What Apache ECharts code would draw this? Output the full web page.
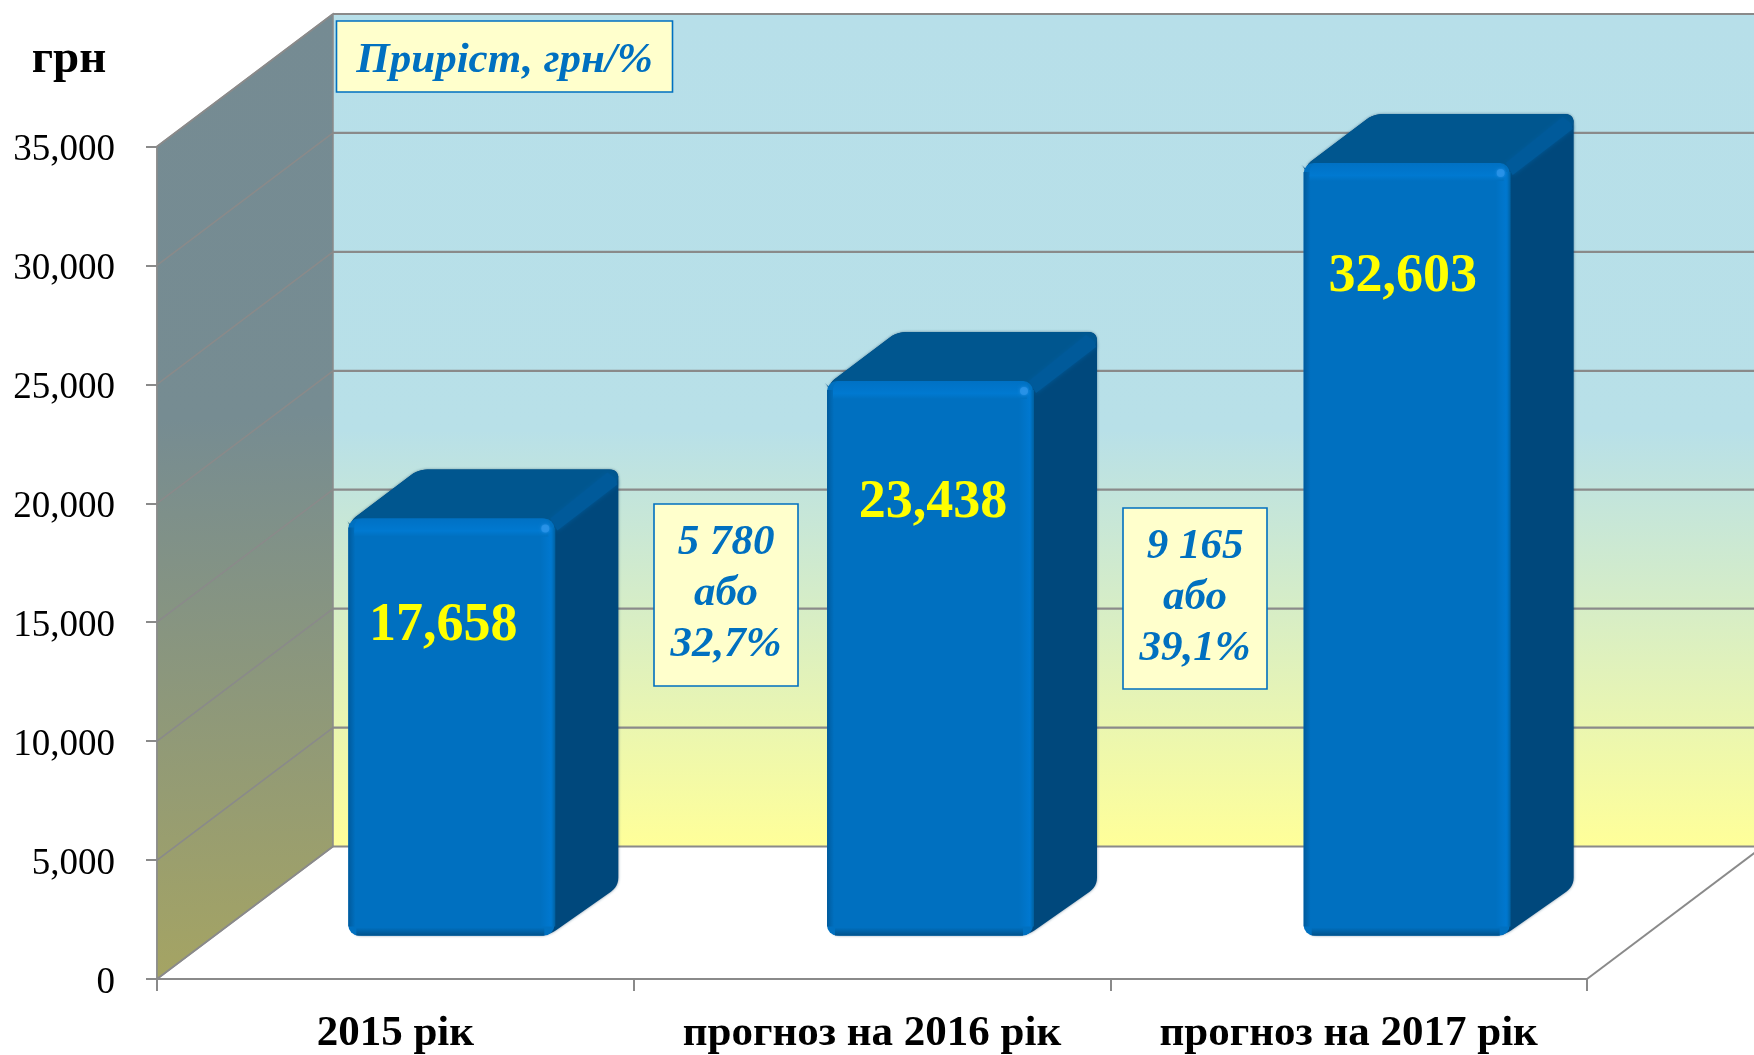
<!DOCTYPE html>
<html><head><meta charset="utf-8">
<style>html,body{margin:0;padding:0;background:#fff}#c{width:1754px;height:1055px}</style>
<script src="https://cdn.jsdelivr.net/npm/echarts@6/dist/echarts.min.js"></script>
</head><body><div id="c"></div>
<script>
const categories = ['2015 рік', 'прогноз на 2016 рік', 'прогноз на 2017 рік'];
const values = [17658, 23438, 32603];
const yTicks = [0, 5000, 10000, 15000, 20000, 25000, 30000, 35000];
const growthTitle = 'Приріст, грн/%';
const growthAbs = ['5 780', '9 165'];
const growthWord = 'або';
const growthPct = ['32,7%', '39,1%'];
const unit = 'грн';

const SERIF = '"Liberation Serif","Times New Roman",serif';
const BLUE = '#0070C0', GREY = '#8A8A8A';
const DEPTH_X = 176, DEPTH_Y = 132.5;      // full depth of the 3D box
const BAR_FRONT = 0.328, BAR_W = 206, BAR_DX = 64, BAR_DY = 49;
const BAR_SHIFT = [-47, -45, -45];
const LABEL_OFF = [[95, 108], [106, 122], [99, 114]];

function roundPoly(pts, r) {
  const out = [], n = pts.length;
  for (let i = 0; i < n; i++) {
    const p0 = pts[(i + n - 1) % n], p = pts[i], p1 = pts[(i + 1) % n];
    const d0 = Math.hypot(p0[0]-p[0], p0[1]-p[1]), d1 = Math.hypot(p1[0]-p[0], p1[1]-p[1]);
    const a = [p[0]+(p0[0]-p[0])*r/d0, p[1]+(p0[1]-p[1])*r/d0];
    const b = [p[0]+(p1[0]-p[0])*r/d1, p[1]+(p1[1]-p[1])*r/d1];
    for (let k = 0; k <= 6; k++) {
      const t = k/6, u = 1-t;
      out.push([u*u*a[0]+2*u*t*p[0]+t*t*b[0], u*u*a[1]+2*u*t*p[1]+t*t*b[1]]);
    }
  }
  return out;
}
function vgrad(c0, c1, horiz) {
  return {type:'linear', x:0, y:0, x2:horiz?1:0, y2:horiz?0:1, colorStops:[{offset:0,color:c0},{offset:1,color:c1}]};
}

function renderWall(params, api) {
  const g = params.coordSys;
  const x0 = g.x, y0 = api.coord([0, 0])[1], yT = api.coord([0, yTicks[yTicks.length-1]])[1];
  const xEnd = g.x + g.width;
  return {type:'group', children:[
    {type:'rect', shape:{x:x0+DEPTH_X, y:yT-DEPTH_Y, width:xEnd-x0, height:y0-yT},
      style:{fill:{type:'linear',x:0,y:0,x2:0,y2:1,colorStops:[
        {offset:0,color:'#B7DFE9'},{offset:0.5,color:'#B8E0E8'},{offset:1,color:'#FFFF99'}]}}},
    {type:'polygon', shape:{points:[[x0,yT],[x0+DEPTH_X,yT-DEPTH_Y],[x0+DEPTH_X,y0-DEPTH_Y],[x0,y0]]},
      style:{fill:{type:'linear',x:0,y:0,x2:0.2,y2:1,colorStops:[
        {offset:0,color:'#758B93'},{offset:0.42,color:'#768C92'},{offset:1,color:'#A5A463'}]},
        stroke:GREY, lineWidth:1.5}},
    {type:'line', shape:{x1:xEnd, y1:y0, x2:xEnd+DEPTH_X, y2:y0-DEPTH_Y}, style:{stroke:GREY, lineWidth:2}}
  ]};
}
function renderGrid(params, api) {
  const g = params.coordSys, y = api.coord([0, api.value(0)])[1];
  const xb = g.x + DEPTH_X;
  return {type:'group', children:[
    {type:'line', shape:{x1:g.x, y1:y, x2:xb, y2:y-DEPTH_Y}, style:{stroke:GREY, lineWidth:1.6}},
    {type:'line', shape:{x1:xb, y1:y-DEPTH_Y, x2:g.x+g.width+DEPTH_X, y2:y-DEPTH_Y}, style:{stroke:GREY, lineWidth:2.2}}
  ]};
}
function renderBar(params, api) {
  const i = api.value(0), v = api.value(1);
  const c = api.coord([i, v]);
  const base = api.coord([i, 0])[1];
  const off = BAR_FRONT * DEPTH_Y;
  const L = c[0] + BAR_SHIFT[i], R = L + BAR_W, T = c[1] - off + 3, B = base - off;
  const dx = BAR_DX, dy = BAR_DY, H = B - T;
  const silhouette = roundPoly([[L,T+4],[L+dx+6,T-dy],[R+dx,T-dy],[R+dx,B-dy],[R-6,B],[L+4,B],[L+4,T+8]], 9);
  const sidePts = [[R-10,T+6],[R+dx-9,T-dy+6],[R+dx,T-dy+12],[R+dx,B-dy+2],[R-8,B-1]];
  const ridge = [[R-4,T],[R+dx-11,T-dy+3],[R+dx-3,T-dy+9],[R+dx-1,T-dy+15],[R+3,T+12]];
  return {type:'group', children:[
    {type:'polygon', shape:{points:silhouette}, style:{fill:'#00487C', shadowBlur:3, shadowColor:'rgba(0,40,80,.5)'}},
    {type:'polygon', shape:{points:roundPoly([[L,T+4],[L+dx+6,T-dy],[R+dx,T-dy],[R+dx,T-dy+14],[R,T+10],[L+4,T+10]],9)}, style:{fill:'#00568F'}},
    {type:'polygon', shape:{points:ridge}, style:{fill:'#005A9A', shadowBlur:4, shadowColor:'#005A9A'}},
    {type:'rect', shape:{x:L, y:T, width:BAR_W, height:H, r:10}, style:{fill:BLUE}},
    {type:'rect', shape:{x:L, y:T+9, width:7, height:H-18}, style:{fill:vgrad('#005A9C',BLUE,true)}},
    {type:'rect', shape:{x:R-14, y:T+9, width:11, height:H-18}, style:{fill:vgrad(BLUE,'#0078D0',true)}},
    {type:'rect', shape:{x:R-3, y:T+9, width:4, height:H-18}, style:{fill:vgrad('#0078D0','#00609F',true)}},
    {type:'rect', shape:{x:L+6, y:T, width:BAR_W-10, height:14, r:[8,8,0,0]}, style:{fill:vgrad('#0071C4','#007AD2')}},
    {type:'rect', shape:{x:L+6, y:T+12, width:BAR_W-12, height:6}, style:{fill:vgrad('#007AD2',BLUE)}},
    {type:'circle', shape:{cx:R-9, cy:T+10, r:4}, style:{fill:'#2A94E8', opacity:.8, shadowBlur:3, shadowColor:'#2A94E8'}},
    {type:'rect', shape:{x:L+8, y:B-8, width:BAR_W-18, height:8}, style:{fill:vgrad(BLUE,'#00528C')}},
    {type:'text', style:{text:(+v).toLocaleString('en-US'), x:L+LABEL_OFF[i][0], y:T+LABEL_OFF[i][1],
      fill:'#FFFF00', font:'bold 54px '+SERIF, textAlign:'center', textVerticalAlign:'middle'}}
  ]};
}

function box(x, y, w, h, lines, size, lead, dy) {
  const ch = [{type:'rect', z:20, shape:{x, y, width:w, height:h},
    style:{fill:'#FFFFCC', stroke:BLUE, lineWidth:1.6}}];
  lines.forEach((t, k) => ch.push({type:'text', z:21, style:{
    text:t, x:x+w/2, y:y+h/2+dy+(k-(lines.length-1)/2)*lead, fill:BLUE,
    font:'italic bold '+size+'px '+SERIF, textAlign:'center', textVerticalAlign:'middle'}}));
  return {type:'group', children:ch};
}

const chart = echarts.init(document.getElementById('c'));
chart.setOption({
  animation:false, backgroundColor:'#fff',
  grid:{left:157, right:167, top:146.5, bottom:75, containLabel:false},
  xAxis:{type:'category', data:categories, z:5,
    axisLine:{show:true, lineStyle:{color:GREY, width:2}},
    axisTick:{show:true, length:12, lineStyle:{color:GREY, width:2}},
    axisLabel:{fontFamily:SERIF, fontWeight:'bold', fontSize:43, color:'#000', margin:33, interval:0}},
  yAxis:{type:'value', min:0, max:35000, interval:5000,
    name:unit, nameLocation:'end', nameGap:63,
    nameTextStyle:{fontFamily:SERIF, fontWeight:'bold', fontSize:47, color:'#000', align:'center', padding:[0,0,0,-176]},
    axisLine:{show:true, lineStyle:{color:GREY, width:1.5}},
    axisTick:{show:true, length:11, lineStyle:{color:GREY, width:2}},
    splitLine:{show:false},
    axisLabel:{fontFamily:SERIF, fontSize:37, color:'#000', margin:42, verticalAlign:'top', lineHeight:8,
      formatter:v => v.toLocaleString('en-US')}},
  graphic:[
    box(336.5, 21, 336, 71, [growthTitle], 43, 0, 4),
    box(654, 504, 144, 182, [growthAbs[0], growthWord, growthPct[0]], 43, 51, -1),
    box(1123, 508, 144, 181, [growthAbs[1], growthWord, growthPct[1]], 43, 51, -1)
  ],
  series:[
    {type:'custom', z:1, silent:true, data:[[0]], renderItem:renderWall, clip:false},
    {type:'custom', z:2, silent:true, data:yTicks.map(v=>[v]), encode:{y:0}, renderItem:renderGrid, clip:false},
    {type:'custom', z:3, silent:true, data:values.map((v,i)=>[i,v]), encode:{x:0,y:1}, renderItem:renderBar, clip:false}
  ]
});
</script></body></html>
